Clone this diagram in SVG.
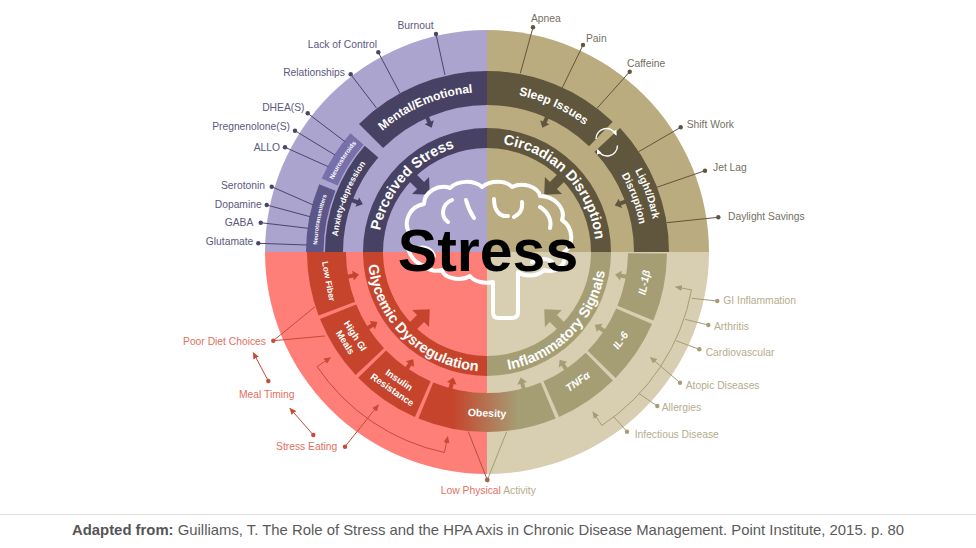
<svg xmlns="http://www.w3.org/2000/svg" width="976" height="548" viewBox="0 0 976 548">
<style>
.bl{font-family:"Liberation Sans",Arial,Helvetica,sans-serif;font-weight:bold;fill:#fff}
.lab{font-family:"Liberation Sans",Arial,Helvetica,sans-serif;font-size:10.3px}
.ul{fill:#5c5880}.ur{fill:#747064}.lr{fill:#b6ac8d}.ll{fill:#e2705f}
.lnul{stroke:#4a4668;stroke-width:1;fill:none}
.lnur{stroke:#5f563d;stroke-width:1;fill:none}
.lnlr{stroke:#a69d76;stroke-width:1;fill:none}
.lnll{stroke:#c94a37;stroke-width:1;fill:none}
.dul{fill:#4a4668}.dur{fill:#5f563d}.dlr{fill:#a69d76}.dll{fill:#c94a37}
.pl{fill:#aaa4cf}.pd{fill:#474263}.tl{fill:#baac7e}.td{fill:#5f563d}
.sl{fill:#fe7e78}.rd{fill:#c5442b}.bg{fill:#d8ceb1}.om{fill:#a59e75}
.brain{fill:none;stroke:#fff;stroke-width:4;stroke-linecap:round;stroke-linejoin:round}
</style>
<defs>
<path id="sa" d="M-2,-1 H2 V5 H5 L0,11 L-5,5 H-2 Z"/>
<path id="ba" d="M-5,-1 H5 V10 H12 L0,23 L-12,10 H-5 Z"/>
<linearGradient id="obg" gradientUnits="userSpaceOnUse" x1="452" y1="0" x2="518" y2="0">
<stop offset="0" stop-color="#c5442b"/><stop offset="1" stop-color="#a59e75"/>
</linearGradient>
<marker id="arR" viewBox="0 0 8 8" refX="7" refY="4" markerWidth="7" markerHeight="7" markerUnits="userSpaceOnUse" orient="auto-start-reverse"><path d="M0,0.5 L8,4 L0,7.5 z" fill="#c94a37"/></marker>
<marker id="arO" viewBox="0 0 8 8" refX="7" refY="4" markerWidth="7" markerHeight="7" markerUnits="userSpaceOnUse" orient="auto-start-reverse"><path d="M0,0.5 L8,4 L0,7.5 z" fill="#a69d76"/></marker>
<marker id="arW" viewBox="0 0 8 8" refX="6" refY="4" markerWidth="5.5" markerHeight="5.5" markerUnits="userSpaceOnUse" orient="auto"><path d="M0,0.5 L8,4 L0,7.5 z" fill="#fff"/></marker>
<path id="tp-mental" d="M351.3,167.2 A160,160 0 0 1 520.3,95.5"/>
<path id="tp-sleep" d="M471.7,92.7 A160,160 0 0 1 617.3,159.1"/>
<path id="tp-ld1" d="M595.7,122.6 A169,169 0 0 1 653.4,281.3"/>
<path id="tp-ld2" d="M586.3,133.3 A155,155 0 0 1 639.6,278.9"/>
<path id="tp-anx" d="M345.2,300.8 A150,150 0 0 1 414.3,120.8"/>
<path id="tp-ntr" d="M326.3,307.4 A170,170 0 0 1 358.7,140.5"/>
<path id="tp-nst" d="M317.2,244.6 A170,170 0 0 1 408.5,101.2"/>
<path id="tp-ps" d="M383.3,285.7 A109,109 0 0 1 509.7,145.4"/>
<path id="tp-cd" d="M460.6,146.2 A109,109 0 0 1 591.8,282.0"/>
<path id="tp-gd" d="M371.1,223.1 A119.5,119.5 0 0 0 519.9,366.9"/>
<path id="tp-is" d="M457.1,367.7 A119.5,119.5 0 0 0 602.2,220.1"/>
</defs>
<rect width="976" height="548" fill="#fff"/>

<g id="quadrants">
<path class="pl" d="M487,252 L265,252 A222,222 0 0 1 487,30 Z"/>
<path class="tl" d="M487,252 L487,30 A222,222 0 0 1 709,252 Z"/>
<path class="bg" d="M487,252 L709,252 A222,222 0 0 1 487,474 Z"/>
<path class="sl" d="M487,252 L487,474 A222,222 0 0 1 265,252 Z"/>
</g>

<g id="perceived-stress">
<path class="pd" d="M363,252 A124,124 0 0 1 487,128 L487,148 A104,104 0 0 0 383,252 Z"/>
<use href="#ba" class="pd" transform="translate(413.5,178.5) rotate(-45)"/>
<text class="bl" font-size="14.5"><textPath href="#tp-ps" startOffset="50%" text-anchor="middle">Perceived Stress</textPath></text>
</g>
<g id="circadian-disruption">
<path class="td" d="M487,128 A124,124 0 0 1 611,252 L591,252 A104,104 0 0 0 487,148 Z"/>
<use href="#ba" class="td" transform="translate(560.5,178.5) rotate(45)"/>
<text class="bl" font-size="14.5"><textPath href="#tp-cd" startOffset="50%" text-anchor="middle">Circadian Disruption</textPath></text>
</g>
<g id="inflammatory-signals">
<path class="om" d="M611,252 A124,124 0 0 1 487,376 L487,356 A104,104 0 0 0 591,252 Z"/>
<use href="#ba" class="om" transform="translate(560.5,325.5) rotate(135)"/>
<text class="bl" font-size="14.5"><textPath href="#tp-is" startOffset="50%" text-anchor="middle">Inflammatory Signals</textPath></text>
</g>
<g id="glycemic-dysregulation">
<path class="rd" d="M487,376 A124,124 0 0 1 363,252 L383,252 A104,104 0 0 0 487,356 Z"/>
<use href="#ba" class="rd" transform="translate(413.5,325.5) rotate(225)"/>
<text class="bl" font-size="14.5"><textPath href="#tp-gd" startOffset="50%" text-anchor="middle">Glycemic Dysregulation</textPath></text>
</g>

<g id="mental-emotional">
<path class="pd" d="M359.0,124.0 A181,181 0 0 1 487,71 L487,105 A147,147 0 0 0 383.1,148.1 Z"/>
<use href="#sa" class="pd" transform="translate(427.2,117.7) rotate(-24)"/>
<text class="bl" font-size="12"><textPath href="#tp-mental" startOffset="50%" text-anchor="middle">Mental/Emotional</textPath></text>
</g>
<g id="sleep-issues">
<path class="td" d="M487,71 A181,181 0 0 1 612.7,121.8 L589.1,146.3 A147,147 0 0 0 487,105 Z"/>
<use href="#sa" class="td" transform="translate(546.8,117.7) rotate(24)"/>
<text class="bl" font-size="12"><textPath href="#tp-sleep" startOffset="50%" text-anchor="middle">Sleep Issues</textPath></text>
</g>
<g id="light-dark">
<path class="td" d="M620.1,127.9 A182,182 0 0 1 669,252 L634,252 A147,147 0 0 0 594.5,151.7 Z"/>
<use href="#sa" class="td" transform="translate(625.1,201.7) rotate(70)"/>
<text class="bl" font-size="10.5"><textPath href="#tp-ld1" startOffset="50%" text-anchor="middle">Light/Dark</textPath></text>
<text class="bl" font-size="10.5"><textPath href="#tp-ld2" startOffset="50%" text-anchor="middle">Disruption</textPath></text>
</g>
<g id="cycle-icon" fill="none" stroke="#fff" stroke-width="1.4">
<path d="M596,139 A10.5,10.5 0 0 1 616,134.5" marker-end="url(#arW)"/>
<path d="M617.5,145.5 A10.5,10.5 0 0 1 597.5,150" marker-end="url(#arW)"/>
</g>
<g id="anxiety-depression">
<path class="pd" d="M325,252 A162,162 0 0 1 364.7,145.7 L378.3,157.5 A144,144 0 0 0 343,252 Z"/>
<use href="#sa" class="pd" transform="translate(352.6,200.4) rotate(-69)"/>
<text class="bl" font-size="8.5"><textPath href="#tp-anx" startOffset="50%" text-anchor="middle">Anxiety-depression</textPath></text>
</g>
<g id="neurotransmitters">
<path fill="#5c5689" d="M306,252 A181,181 0 0 1 319.2,184.2 L335.4,190.8 A163.5,163.5 0 0 0 323.5,252 Z"/>
<text class="bl" font-size="5.8"><textPath href="#tp-ntr" startOffset="50%" text-anchor="middle">Neurotransmitters</textPath></text>
</g>
<g id="neurosteroids">
<path fill="#7770aa" d="M321.7,178.4 A181,181 0 0 1 350.4,133.2 L363.6,144.7 A163.5,163.5 0 0 0 337.6,185.5 Z"/>
<text class="bl" font-size="6.4"><textPath href="#tp-nst" startOffset="50%" text-anchor="middle">Neurosteroids</textPath></text>
</g>

<g id="low-fiber">
<path class="rd" d="M318.6,315.6 A180,180 0 0 1 307,252 L346,252 A141,141 0 0 0 355.1,301.8 Z"/>
<use href="#sa" class="rd" transform="translate(348.1,276.5) rotate(260)"/>
<text class="bl" font-size="8.5" text-anchor="middle" transform="translate(328.7,281.3) rotate(79.5)" y="3">Low Fiber</text>
</g>
<g id="high-gi-meals">
<path class="rd" d="M355.6,375.0 A180,180 0 0 1 320.0,319.1 L356.2,304.6 A141,141 0 0 0 384.0,348.3 Z"/>
<use href="#sa" class="rd" transform="translate(368.1,327.8) rotate(237.5)"/>
<g transform="translate(350.4,339.0) rotate(57.5)"><text class="bl" font-size="9.5" text-anchor="middle" y="-2.6">High GI</text><text class="bl" font-size="9.5" text-anchor="middle" y="9.4">Meals</text></g>
</g>
<g id="insulin-resistance">
<path class="rd" d="M414.9,417.0 A180,180 0 0 1 358.2,377.7 L386.1,350.5 A141,141 0 0 0 430.6,381.2 Z"/>
<use href="#sa" class="rd" transform="translate(407.1,368.2) rotate(214.5)"/>
<g transform="translate(395.8,384.7) rotate(34.5)"><text class="bl" font-size="9.5" text-anchor="middle" y="-2.6">Insulin</text><text class="bl" font-size="9.5" text-anchor="middle" y="9.4">Resistance</text></g>
</g>
<g id="obesity">
<path fill="url(#obg)" d="M555.6,418.4 A180,180 0 0 1 418.4,418.4 L433.3,382.4 A141,141 0 0 0 540.7,382.4 Z"/>
<use href="#sa" class="rd" transform="translate(450.5,388.2) rotate(195)"/>
<use href="#sa" class="om" transform="translate(523.5,388.2) rotate(165)"/>
<text class="bl" font-size="10.5" text-anchor="middle" transform="translate(487,413) rotate(2)" y="3.7">Obesity</text>
</g>
<g id="tnfa">
<path class="om" d="M612.9,380.6 A180,180 0 0 1 559.1,417.0 L543.4,381.2 A141,141 0 0 0 585.7,352.7 Z"/>
<use href="#sa" class="om" transform="translate(565.8,368.9) rotate(146)"/>
<text class="bl" font-size="10.5" font-style="italic" text-anchor="middle" transform="translate(577.6,381.4) rotate(-35)" y="3.7">TNFα</text>
</g>
<g id="il-6">
<path class="om" d="M652.0,324.1 A180,180 0 0 1 615.6,377.9 L587.7,350.7 A141,141 0 0 0 616.2,308.4 Z"/>
<use href="#sa" class="om" transform="translate(603.9,330.8) rotate(124)"/>
<text class="bl" font-size="10.5" font-style="italic" text-anchor="middle" transform="translate(620.4,340.3) rotate(-56.5)" y="3.7">IL-6</text>
</g>
<g id="il-1b">
<path class="om" d="M667.0,253.6 A180,180 0 0 1 653.4,320.6 L617.4,305.7 A141,141 0 0 0 628.0,253.2 Z"/>
<use href="#sa" class="om" transform="translate(625.9,276.5) rotate(100)"/>
<text class="bl" font-size="10.5" font-style="italic" text-anchor="middle" transform="translate(644.1,282.5) rotate(-79)" y="3.7">IL-1β</text>
</g>

<g id="stress-center">
<path class="brain" d="M425,266 C410,262 404,246 410,234 C402,222 410,206 424,204 C424,192 438,184 450,188 C458,180 474,180 482,187 C490,180 506,180 512,187 C522,182 538,186 540,196 C554,196 566,208 562,220 C574,228 574,246 564,252 C568,264 556,274 544,270 C536,278 524,276 518,272 L518,312 Q518,318 512,318 L498,318 Q493,318 493,312 L493,282 C486,284 474,282 470,276 C460,282 444,278 442,270 C436,272 428,270 425,266 Z"/>
<path class="brain" d="M452,200 C442,204 440,216 448,222 M466,200 C468,208 470,212 474,218 M494,199 C494,211 500,217 508,216 M522,202 C523,209 520,214 514,217 M540,207 C548,212 552,220 550,228 M418,248 C426,246 432,250 434,256 M532,262 C540,258 548,258 552,262"/>
<text x="488" y="271" text-anchor="middle" font-family="'Liberation Sans',Arial,Helvetica,sans-serif" font-weight="bold" font-size="59" fill="#000">Stress</text>
</g>

<g id="connectors">
<path class="lnul" d="M436,34 L445,75 M378.3,52.3 L400,93.3 M350.7,74.3 L376.7,108.3 M307.7,113.3 L345,141.7 M295,130.7 L335,155 M285,147.3 L328.3,166.7 M271.7,186.7 L313.3,205 M266.7,205 L310,216.7 M260.7,222.7 L308.3,228.3 M258.3,243.3 L307,245"/>
<g class="dul"><circle cx="436" cy="34" r="2.2"/><circle cx="378.3" cy="52.3" r="2.2"/><circle cx="350.7" cy="74.3" r="2.2"/><circle cx="307.7" cy="113.3" r="2.2"/><circle cx="295" cy="130.7" r="2.2"/><circle cx="285" cy="147.3" r="2.2"/><circle cx="271.7" cy="186.7" r="2.2"/><circle cx="266.7" cy="205" r="2.2"/><circle cx="260.7" cy="222.7" r="2.2"/><circle cx="258.3" cy="243.3" r="2.2"/></g>
<path class="lnur" d="M533,27.3 L520.3,73.3 M583,45 L562,88.3 M629.7,71.7 L597,108.3 M680.7,127.3 L638.7,151.7 M705,170.7 L656.7,187.3 M718.3,217.3 L666.7,222.7"/>
<g class="dur"><circle cx="533" cy="27.3" r="2.2"/><circle cx="583" cy="45" r="2.2"/><circle cx="629.7" cy="71.7" r="2.2"/><circle cx="680.7" cy="127.3" r="2.2"/><circle cx="705" cy="170.7" r="2.2"/><circle cx="718.3" cy="217.3" r="2.2"/></g>
<path class="lnlr" d="M675.8,287.0 L691.5,289.9 A208,208 0 0 1 601.8,425.5 L593.0,412.1" marker-start="url(#arO)" marker-end="url(#arO)"/>
<path class="lnlr" d="M680,382.7 L650.5,357.5" marker-end="url(#arO)"/>
<path class="lnlr" d="M717.3,301 L691.7,298.3 M708.3,325 L685,319.3 M699.3,349.3 L676,340.7 M657.3,406 L638.7,393.3 M627,431.7 L613.7,416.7"/>
<g class="dlr"><circle cx="717.3" cy="301" r="2.2"/><circle cx="708.3" cy="325" r="2.2"/><circle cx="699.3" cy="349.3" r="2.2"/><circle cx="680" cy="382.7" r="2.2"/><circle cx="657.3" cy="406" r="2.2"/><circle cx="627" cy="431.7" r="2.2"/></g>
<path class="lnll" d="M330.3,357.7 L317.1,366.6 A205,205 0 0 0 444.4,452.5 L447.7,436.9" marker-start="url(#arR)" marker-end="url(#arR)"/>
<path class="lnll" d="M273.3,340.7 L315,306.7 M273.3,340.7 L325,336"/>
<path class="lnll" d="M268.3,381 L253.3,352.7" marker-end="url(#arR)"/>
<path class="lnll" d="M313.3,435 L290,408.3" marker-end="url(#arR)"/>
<path class="lnll" d="M345,446.7 L378.3,405" marker-end="url(#arR)"/>
<path stroke="#b0533d" stroke-width="1" fill="none" d="M487.3,480 L468.3,431.7"/>
<path stroke="#a69d76" stroke-width="1" fill="none" d="M487.3,480 L506.7,431.7"/>
<g class="dll"><circle cx="273.3" cy="340.7" r="2.2"/><circle cx="268.3" cy="381" r="2.2"/><circle cx="313.3" cy="435" r="2.2"/><circle cx="345" cy="446.7" r="2.2"/></g>
<circle cx="487.3" cy="480" r="2.4" fill="#a7674f"/>
</g>

<g id="labels" class="lab">
<text class="ul" x="415.5" y="29" text-anchor="middle">Burnout</text>
<text class="ul" x="377" y="48" text-anchor="end">Lack of Control</text>
<text class="ul" x="345" y="76" text-anchor="end">Relationships</text>
<text class="ul" x="304.5" y="110.5" text-anchor="end">DHEA(S)</text>
<text class="ul" x="290" y="130" text-anchor="end">Pregnenolone(S)</text>
<text class="ul" x="280" y="150.5" text-anchor="end">ALLO</text>
<text class="ul" x="265" y="188.7" text-anchor="end">Serotonin</text>
<text class="ul" x="261.7" y="207.7" text-anchor="end">Dopamine</text>
<text class="ul" x="253.3" y="226" text-anchor="end">GABA</text>
<text class="ul" x="253.3" y="245.4" text-anchor="end">Glutamate</text>
<text class="ur" x="531" y="21.7">Apnea</text>
<text class="ur" x="586" y="41.7">Pain</text>
<text class="ur" x="627" y="66.7">Caffeine</text>
<text class="ur" x="686.7" y="127.7">Shift Work</text>
<text class="ur" x="713" y="170.7">Jet Lag</text>
<text class="ur" x="728" y="220.4">Daylight Savings</text>
<text class="lr" x="723.3" y="304.4">GI Inflammation</text>
<text class="lr" x="714" y="330.4">Arthritis</text>
<text class="lr" x="705.7" y="356.4">Cardiovascular</text>
<text class="lr" x="685.7" y="389">Atopic Diseases</text>
<text class="lr" x="661.7" y="411.4">Allergies</text>
<text class="lr" x="634.7" y="438">Infectious Disease</text>
<text class="ll" x="266" y="344.7" text-anchor="end">Poor Diet Choices</text>
<text class="ll" x="266.8" y="397.7" text-anchor="middle">Meal Timing</text>
<text class="ll" x="337.3" y="450.4" text-anchor="end">Stress Eating</text>
<text x="488.3" y="493.7" text-anchor="middle"><tspan class="ll">Low Physical </tspan><tspan class="lr">Activity</tspan></text>
</g>

<g id="footer">
<line x1="0" y1="514.5" x2="976" y2="514.5" stroke="#dddddd" stroke-width="1"/>
<text x="72" y="535" font-family="'Liberation Sans',Arial,Helvetica,sans-serif" font-size="15" fill="#5a5a5a" textLength="832" lengthAdjust="spacingAndGlyphs"><tspan font-weight="bold" fill="#555">Adapted from:</tspan> Guilliams, T. The Role of Stress and the HPA Axis in Chronic Disease Management. Point Institute, 2015. p. 80</text>
</g>
</svg>
